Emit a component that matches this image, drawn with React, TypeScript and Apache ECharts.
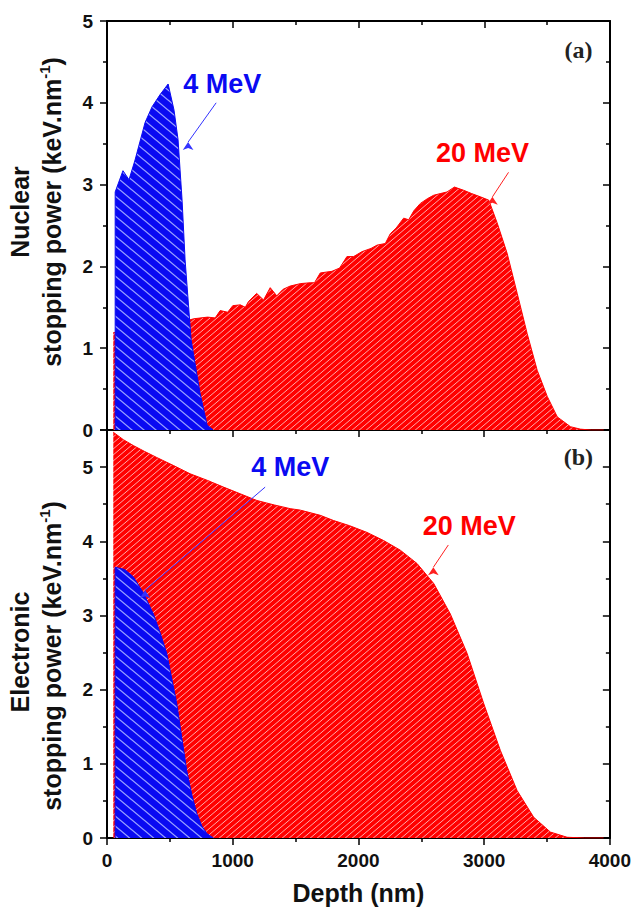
import React, { useEffect, useRef } from "react";
import * as echarts from "echarts";

// ---- Data (depth in nm, stopping power in keV/nm) ----
const nuclear20: [number, number][] = [
  [50, 1.19], [300, 1.25], [600, 1.32], [690, 1.36], [800, 1.38], [860, 1.37], [900, 1.46], [960, 1.44],
  [1000, 1.52], [1060, 1.53], [1100, 1.5], [1125, 1.57], [1190, 1.67], [1245, 1.59], [1298, 1.74],
  [1350, 1.64], [1400, 1.72], [1457, 1.76], [1540, 1.79], [1616, 1.8], [1650, 1.8], [1696, 1.92],
  [1789, 1.94], [1850, 1.98], [1908, 2.12], [1961, 2.12], [2027, 2.18], [2100, 2.22], [2147, 2.26],
  [2213, 2.28], [2253, 2.4], [2300, 2.47], [2359, 2.59], [2399, 2.57], [2440, 2.68], [2492, 2.77],
  [2550, 2.83], [2598, 2.87], [2650, 2.89], [2704, 2.91], [2763, 2.97], [2837, 2.93], [2900, 2.89],
  [2970, 2.85], [3036, 2.81], [3103, 2.53], [3182, 2.16], [3262, 1.67], [3341, 1.18], [3421, 0.73],
  [3501, 0.41], [3581, 0.16], [3686, 0.04], [3766, 0.01], [3850, 0], [3950, 0],
];
const nuclear4: [number, number][] = [
  [65, 0], [65, 2.91], [127, 3.17], [175, 3.06], [223, 3.3], [303, 3.76], [358, 3.95], [422, 4.1],
  [486, 4.23], [533, 3.91], [565, 3.55], [597, 2.81], [621, 2.08], [669, 1.1], [740, 0.45], [796, 0.06], [844, 0],
];
const electronic20: [number, number][] = [
  [50, 5.47], [130, 5.37], [210, 5.29], [300, 5.21], [395, 5.13], [530, 5.02], [661, 4.91], [800, 4.82],
  [927, 4.73], [1060, 4.64], [1192, 4.55], [1330, 4.49], [1457, 4.44], [1537, 4.42], [1696, 4.35],
  [1802, 4.28], [1930, 4.21], [2067, 4.12], [2200, 4.01], [2333, 3.88], [2466, 3.7], [2599, 3.43],
  [2731, 3.02], [2864, 2.49], [2997, 1.81], [3129, 1.18], [3262, 0.64], [3394, 0.28], [3527, 0.08],
  [3660, 0.01], [3800, 0], [3950, 0],
];
const electronic4: [number, number][] = [
  [65, 0], [65, 3.65], [140, 3.62], [210, 3.52], [290, 3.3], [369, 3.02], [420, 2.78], [475, 2.49],
  [515, 2.15], [555, 1.81], [595, 1.35], [634, 0.91], [675, 0.58], [714, 0.33], [755, 0.16], [794, 0.06], [847, 0],
];
const xTicks = [0, 1000, 2000, 3000, 4000];
const labelA = "(a)";
const labelB = "(b)";
const label4 = "4 MeV";
const label20 = "20 MeV";

const FONT = "'Liberation Sans', Arial, sans-serif";
const BLUE = "#0a0af2";
const RED = "#ff0000";

function hatch(w: number, h: number, bg: string, fg: string, lw: number, back: boolean): string {
  const c = document.createElement("canvas");
  c.width = w;
  c.height = h;
  const ctx = c.getContext("2d")!;
  ctx.fillStyle = bg;
  ctx.fillRect(0, 0, w, h);
  ctx.strokeStyle = fg;
  ctx.lineWidth = lw;
  for (const k of [-1, 0, 1]) {
    ctx.beginPath();
    if (back) {
      ctx.moveTo(k * w - w, -h);
      ctx.lineTo(k * w + 2 * w, 2 * h);
    } else {
      ctx.moveTo(k * w - w, 2 * h);
      ctx.lineTo(k * w + 2 * w, -h);
    }
    ctx.stroke();
  }
  return c.toDataURL();
}

export default function App() {
  const ref = useRef<HTMLDivElement>(null);
  useEffect(() => {
    if (!ref.current) return;
    const chart = echarts.init(ref.current, null, { renderer: "svg" });
    const blueImg = hatch(12, 10, BLUE, "#9aa2ff", 1.3, true);
    const redImg = hatch(7, 6, RED, "#ffa8a8", 1, false);
    const bluePat: any = { image: blueImg, repeat: "repeat", imageWidth: 12, imageHeight: 10 };
    const redPat: any = { image: redImg, repeat: "repeat", imageWidth: 7, imageHeight: 6 };

    const axLine = { show: true, onZero: false, lineStyle: { color: "#000", width: 2 } };
    const tickLS = { color: "#000", width: 1.5 };
    const xBase = (grid: number, pos: string, inside: boolean, labels: boolean) => ({
      gridIndex: grid, type: "value", min: 0, max: 4000, interval: 1000, position: pos,
      axisLine: axLine,
      axisTick: { show: true, inside, length: 7, lineStyle: tickLS },
      minorTick: { show: true, splitNumber: 2, length: 4, lineStyle: tickLS },
      axisLabel: labels
        ? { show: true, margin: 13, fontSize: 19, fontWeight: "bold", color: "#111", fontFamily: FONT,
            formatter: (v: number) => (xTicks.includes(v) ? String(v) : "") }
        : { show: false },
      splitLine: { show: false },
    });
    const yBase = (grid: number, pos: string, max: number, inside: boolean, labels: boolean) => ({
      gridIndex: grid, type: "value", min: 0, max, interval: 1, position: pos,
      axisLine: axLine,
      axisTick: { show: true, inside, length: 7, lineStyle: tickLS },
      minorTick: { show: true, splitNumber: 2, length: 4, lineStyle: tickLS },
      axisLabel: labels
        ? { show: true, margin: 14, fontSize: 19, fontWeight: "bold", color: "#111", fontFamily: FONT,
            formatter: (v: number) => (Number.isInteger(v) ? String(v) : "") }
        : { show: false },
      splitLine: { show: false },
    });

    const txt = (text: string, coord: [number, number], color: string, size: number, family = FONT) => ({
      coord,
      symbol: "rect",
      symbolSize: 1,
      itemStyle: { color: "transparent" },
      label: { show: true, position: "inside", formatter: text, color, fontSize: size, fontWeight: "bold", fontFamily: family },
    });
    const arrow = (a: [number, number], b: [number, number], color: string) => ({
      silent: true,
      symbol: ["none", "triangle"],
      symbolSize: 8,
      symbolRotate: 0,
      itemStyle: { color },
      lineStyle: { color, width: 1, type: "solid", opacity: 1 },
      label: { show: false },
      emphasis: { disabled: true },
      data: [[{ coord: a }, { coord: b, symbol: "arrow", symbolSize: 8, itemStyle: { color } }]],
    });
    const area = (data: [number, number][], pat: any, color: string, xi: number, yi: number, z: number, extra: any) => ({
      type: "line",
      xAxisIndex: xi,
      yAxisIndex: yi,
      z,
      data,
      symbol: "none",
      smooth: false,
      lineStyle: { width: 1, color },
      itemStyle: { color },
      areaStyle: { color: pat, opacity: 1 },
      ...extra,
    });

    const titleStyle = { fontFamily: FONT, fontWeight: "bold", fontSize: 25, fill: "#111" };
    const supRich = {
      a: { fontFamily: FONT, fontWeight: "bold", fontSize: 25, fill: "#111" },
      s: { fontFamily: FONT, fontWeight: "bold", fontSize: 15, fill: "#111", verticalAlign: "top", lineHeight: 30 },
    };

    chart.setOption({
      animation: false,
      backgroundColor: "#fff",
      grid: [
        { left: 107, right: 24, top: 21, height: 409 },
        { left: 107, right: 24, top: 430, height: 408 },
      ],
      xAxis: [
        { ...xBase(0, "bottom", false, false), axisTick: { show: false }, minorTick: { show: false } },
        xBase(0, "top", true, false),
        { ...xBase(1, "bottom", false, true), name: "Depth (nm)", nameLocation: "middle", nameGap: 42,
          nameTextStyle: { fontSize: 25, fontWeight: "bold", color: "#111", fontFamily: FONT } },
        xBase(1, "top", true, false),
      ],
      yAxis: [
        yBase(0, "left", 5, false, true),
        yBase(0, "right", 5, true, false),
        yBase(1, "left", 5.5, false, true),
        yBase(1, "right", 5.5, true, false),
      ],
      series: [
        area(nuclear20, redPat, RED, 0, 0, 2, {
          markLine: arrow([3193, 3.15], [3065, 2.85], "#ff2020"),
          markPoint: { silent: true, data: [txt(label20, [2986, 3.39], RED, 27), txt(labelA, [3750, 4.65], "#222", 24, "'Liberation Serif', 'Times New Roman', serif")] },
        }),
        area(nuclear4, bluePat, BLUE, 0, 0, 3, {
          markLine: arrow([868, 4.0], [645, 3.52], "#3333ff"),
          markPoint: { silent: true, data: [txt(label4, [916, 4.23], BLUE, 27)] },
        }),
        area(electronic20, redPat, RED, 2, 2, 2, {
          markLine: arrow([2715, 3.95], [2596, 3.65], "#ff2020"),
          markPoint: { silent: true, data: [txt(label20, [2882, 4.21], RED, 27), txt(labelB, [3750, 5.13], "#222", 24, "'Liberation Serif', 'Times New Roman', serif")] },
        }),
        area(electronic4, bluePat, BLUE, 2, 2, 3, {
          markLine: arrow([1258, 4.73], [303, 3.34], "#3333ff"),
          markPoint: { silent: true, data: [txt(label4, [1457, 5.0], BLUE, 27)] },
        }),
      ],
      graphic: [
        { type: "text", x: 20, y: 212, rotation: Math.PI / 2, style: { ...titleStyle, text: "Nuclear", textAlign: "center", textVerticalAlign: "middle" } },
        { type: "text", x: 52, y: 212, rotation: Math.PI / 2, style: { text: "{a|stopping power (keV.nm}{s|-1}{a|)}", rich: supRich, textAlign: "center", textVerticalAlign: "middle" } },
        { type: "text", x: 20, y: 652, rotation: Math.PI / 2, style: { ...titleStyle, text: "Electronic", textAlign: "center", textVerticalAlign: "middle" } },
        { type: "text", x: 52, y: 656, rotation: Math.PI / 2, style: { text: "{a|stopping power (keV.nm}{s|-1}{a|)}", rich: supRich, textAlign: "center", textVerticalAlign: "middle" } },
      ],
    } as any);
    return () => chart.dispose();
  }, []);
  return <div ref={ref} style={{ position: "absolute", left: 0, top: 0, width: 634, height: 908 }} />;
}
